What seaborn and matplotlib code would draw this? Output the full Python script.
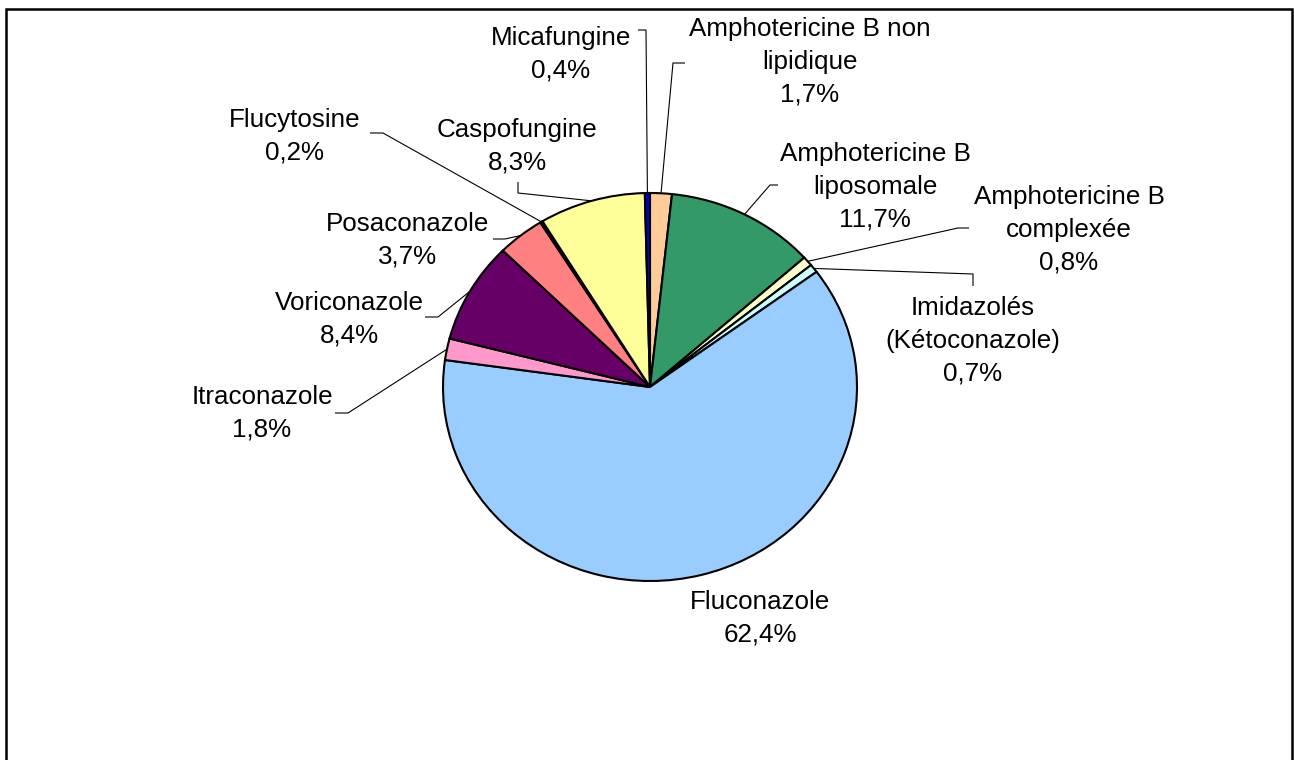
import matplotlib
matplotlib.use("Agg")
import matplotlib.pyplot as plt
import matplotlib.patches as mpatches
import numpy as np
import seaborn as sns

# Data (clockwise from 12 o'clock)
names = ['Amphotericine B non\nlipidique', 'Amphotericine B\nliposomale', 'Amphotericine B\ncomplexée',
         'Imidazolés\n(Kétoconazole)', 'Fluconazole', 'Itraconazole', 'Voriconazole',
         'Posaconazole', 'Flucytosine', 'Caspofungine', 'Micafungine']
shares = [1.7, 11.7, 0.8, 0.7, 62.4, 1.8, 8.4, 3.7, 0.2, 8.3, 0.4]
colors = ['#FFCC99', '#339966', '#FFFFCC', '#CCFFFF', '#99CCFF', '#FF99CC',
          '#660066', '#FF8080', '#000080', '#FFFF99', '#0000CC']

# Layout in pixels: pie centre / radii, label centres, leader elbow + end points
W, H = 1294, 760
cx, cy, rx, ry = 650, 387, 207, 194
label_pos = [(810, 62), (875, 187), (1069, 230), (973, 341), (760, 618), (262, 413),
             (349, 319), (408, 240), (295, 136), (517, 146), (561, 54)]
leaders = [[(673, 63), (685, 63)], [(770, 185), (778, 185)], [(958, 228), (969, 228)],
           [(973, 274), (973, 286)], None, [(348, 413), (335, 413)],
           [(438, 317), (425, 317)], [(505, 239), (493, 239)], [(383, 133), (370, 133)],
           [(518, 193), (518, 182)], [(646, 30), (638, 30)]]


def to_data(p):
    return (p[0] - cx) / rx, (cy - p[1]) / ry


sns.set_style("white")
plt.rcParams['font.family'] = ['Liberation Sans', 'DejaVu Sans']

fig = plt.figure(figsize=(W / 100, H / 100), dpi=100)
ax = fig.add_axes([0, 0, 1, 1])

wedges, _ = ax.pie(shares, colors=colors, startangle=90, counterclock=False, radius=1,
                   wedgeprops=dict(edgecolor='black', linewidth=1.5))
ax.set_aspect('auto')
ax.set_xlim(-cx / rx, (W - cx) / rx)
ax.set_ylim(-(H - cy) / ry, cy / ry)
ax.axis('off')

for w, name, v, lp, ld in zip(wedges, names, shares, label_pos, leaders):
    pct = f"{v:.1f}".replace('.', ',') + '%'
    x, y = to_data(lp)
    ax.text(x, y, f"{name}\n{pct}", ha='center', va='center', fontsize=18.7,
            linespacing=1.45, color='black')
    if ld is None:
        continue
    mid = np.deg2rad((w.theta1 + w.theta2) / 2)
    pts = [(np.cos(mid), np.sin(mid))] + [to_data(p) for p in ld]
    xs, ys = zip(*pts)
    ax.plot(xs, ys, color='black', lw=0.8, solid_capstyle='butt')

# outer chart frame (bottom edge runs off the picture)
fig.patches.append(mpatches.Rectangle((6 / W, -0.05), (1292 - 6) / W, 1.05 - 9 / H,
                                      transform=fig.transFigure, fill=False,
                                      edgecolor='black', linewidth=1.8))

fig.savefig('out.png', dpi=100)
